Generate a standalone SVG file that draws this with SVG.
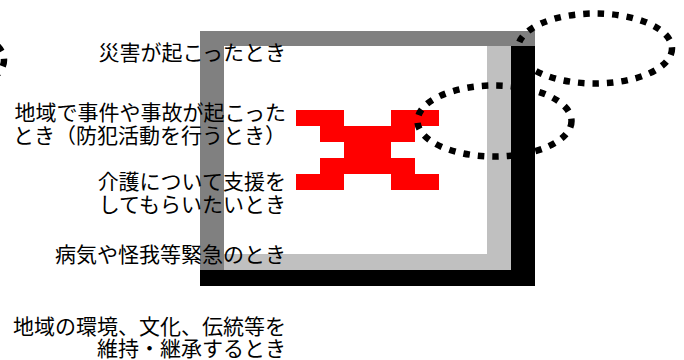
<svg xmlns="http://www.w3.org/2000/svg" width="684" height="360" viewBox="0 0 684 360">
<style>
.t{font-family:"Noto Sans CJK JP","Noto Sans CJK SC",sans-serif;font-size:21px;fill:#000;text-anchor:end}
.dot{fill:none;stroke:#000;stroke-width:6.5;stroke-dasharray:6.5 8}
</style>
<rect width="684" height="360" fill="#fff"/>
<g id="frame">
<rect x="200" y="31" width="335" height="15" fill="#808080"/>
<rect x="200" y="31" width="24" height="239" fill="#808080"/>
<rect x="487" y="46" width="24" height="224" fill="#c0c0c0"/>
<rect x="224" y="254" width="287" height="16" fill="#c0c0c0"/>
<rect x="511" y="46" width="24" height="240" fill="#000"/>
<rect x="200" y="270" width="335" height="16" fill="#000"/>
</g>
<g id="cross" fill="#f00">
<rect x="296" y="110" width="48" height="16"/>
<rect x="391" y="110" width="48" height="16"/>
<rect x="320" y="126" width="95" height="16"/>
<rect x="344" y="142" width="47" height="16"/>
<rect x="320" y="158" width="95" height="16"/>
<rect x="296" y="174" width="48" height="16"/>
<rect x="391" y="174" width="48" height="16"/>
</g>
<g id="labels">
<text class="t" x="286" y="60">災害が起こったとき</text>
<text class="t" x="286" y="120">地域で事件や事故が起こった</text>
<text class="t" x="286" y="143">とき（防犯活動を行うとき）</text>
<text class="t" x="286" y="189">介護について支援を</text>
<text class="t" x="286" y="212">してもらいたいとき</text>
<text class="t" x="286" y="262">病気や怪我等緊急のとき</text>
<text class="t" x="286" y="334">地域の環境、文化、伝統等を</text>
<text class="t" x="286" y="356">維持・継承するとき</text>
</g>
<g id="connectors">
<ellipse class="dot" cx="595" cy="48.5" rx="77" ry="35"/>
<ellipse class="dot" cx="494.5" cy="121" rx="77" ry="35.5"/>
<ellipse class="dot" cx="-73" cy="60" rx="77" ry="35"/>
</g>
</svg>
